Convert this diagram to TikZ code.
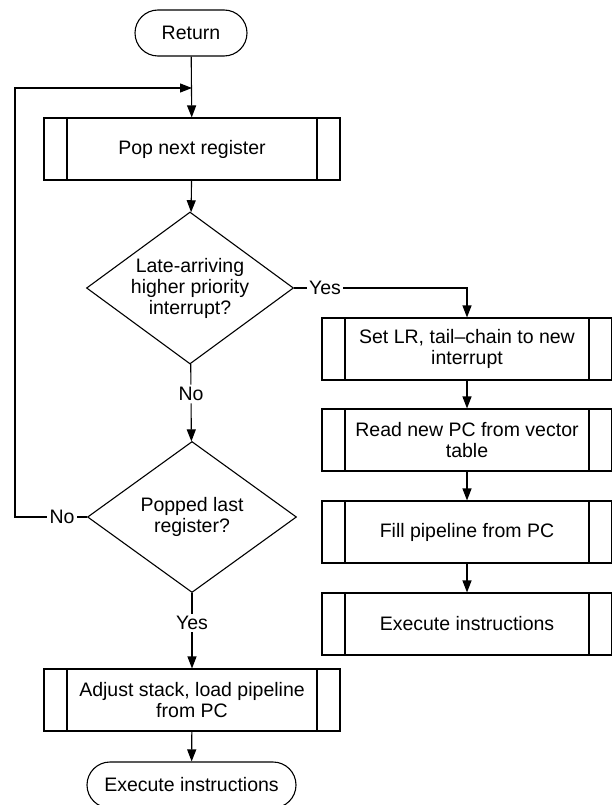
\documentclass[tikz,border=0pt]{standalone}
\usepackage{fontspec}
\setmainfont{Liberation Sans}
\usetikzlibrary{shapes.geometric,arrows.meta}

\begin{document}
\begin{tikzpicture}[x=1pt,y=-1pt]
\tikzset{term/.style={draw, rectangle, rounded corners=23pt, minimum height=46pt, inner sep=0pt},
procbox/.style={draw, rectangle, minimum width=296pt, minimum height=62pt, inner sep=0pt, align=center,
  path picture={\draw ([xshift=23pt]path picture bounding box.north west) -- ([xshift=23pt]path picture bounding box.south west)
  ([xshift=-23pt]path picture bounding box.north east) -- ([xshift=-23pt]path picture bounding box.south east);}},
rproc/.style={procbox, minimum width=290pt},
decis/.style={draw, diamond, aspect=1.37, inner sep=0pt, align=center},
lbl/.style={inner sep=2pt},
fl/.style={-{Triangle[length=12pt,width=9pt]}}}
\useasboundingbox (0,0) rectangle (611,805);
\tikzset{every node/.style={font=\fontsize{19.5}{21}\selectfont}, every path/.style={line width=1.1pt}}
\node[term, minimum width=112pt] (Ret) at (191,33) {Return};
\node[procbox] (Pop) at (192,149) {Pop next register};
\node[decis, minimum width=207pt, minimum height=152pt] (D1) at (190,288) {Late-arriving\\higher priority\\interrupt?};
\node[lbl] (Y1) at (325,288) {Yes};
\node[lbl] (N1) at (191,394) {No};
\node[decis, minimum width=209pt, minimum height=151pt] (D2) at (192,517) {Popped last\\register?};
\node[lbl] (N2) at (62,517) {No};
\node[lbl] (Y2) at (192,623) {Yes};
\node[procbox] (Adj) at (192,700) {Adjust stack, load pipeline\\from PC};
\node[term, minimum width=209pt] (Exe) at (191.5,785) {Execute instructions};
\node[rproc] (S1) at (467,349) {Set LR, tail--chain to new\\interrupt};
\node[rproc] (S2) at (467,440) {Read new PC from vector\\table};
\node[rproc] (S3) at (467,532) {Fill pipeline from PC};
\node[rproc] (S4) at (467,624) {Execute instructions};
\coordinate (J) at (192,88);
\coordinate (K) at (15,88);
\draw[fl] (Ret) -- (Pop);
\draw[fl] (Pop) -- (D1);
\draw (D1) -- (Y1);
\draw[fl] (Y1) -| (S1);
\draw (D1) -- (N1);
\draw[fl] (N1) -- (D2);
\draw (D2) -- (N2);
\draw[fl] (N2) -| (K) -- (J);
\draw (D2) -- (Y2);
\draw[fl] (Y2) -- (Adj);
\draw[fl] (Adj) -- (Exe);
\draw[fl] (S1) -- (S2);
\draw[fl] (S2) -- (S3);
\draw[fl] (S3) -- (S4);
\end{tikzpicture}
\end{document}
